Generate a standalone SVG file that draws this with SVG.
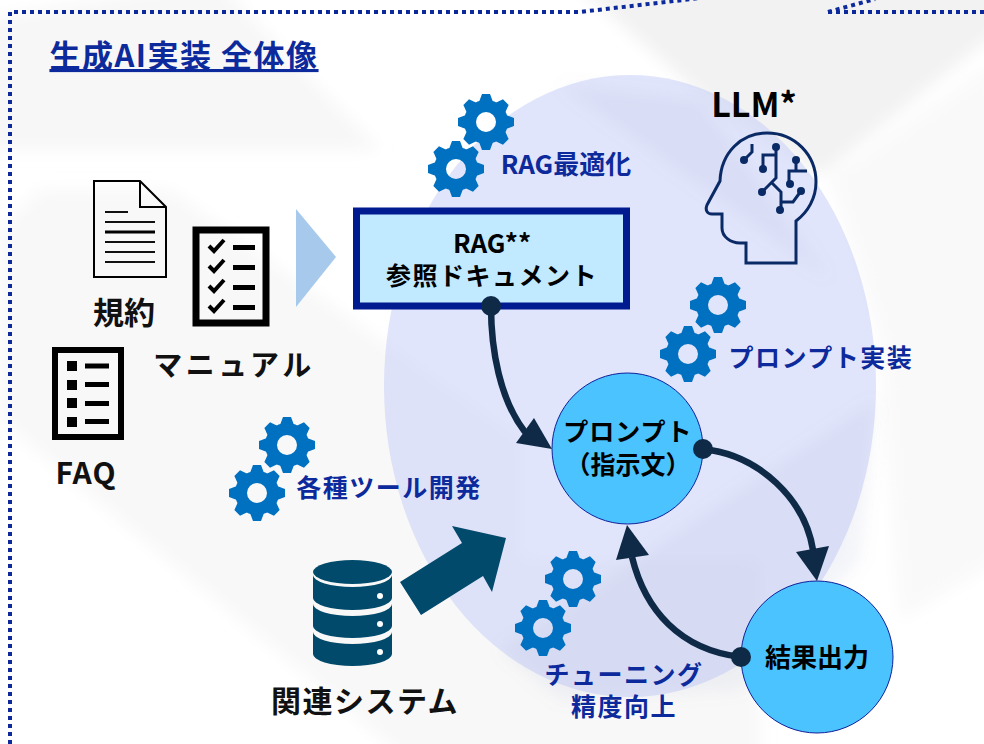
<svg xmlns="http://www.w3.org/2000/svg" xmlns:xlink="http://www.w3.org/1999/xlink" width="984" height="744" viewBox="0 0 984 744">
<style>
text{font-family:"Noto Sans CJK JP","Noto Sans",sans-serif;text-anchor:middle}
.k{fill:#111;font-weight:700}
.kb{fill:#000;font-weight:700}
.b{fill:#0d2a9c;font-weight:700}
.n{fill:#4ac3ff;stroke:#10209a;stroke-width:1}
.c{fill:none;stroke:#0f2a47;stroke-width:6.5}
.h{fill:#0f2a47}
.m{fill:none;stroke:#0a2a66;stroke-width:3}
.d{fill:#0a2a66}
.bd{fill:none;stroke:#0d2a9c;stroke-width:4;stroke-dasharray:4 4}
.db{fill:#024a6b}
</style>
<defs>
<filter id="soft" x="-10%" y="-10%" width="120%" height="120%"><feGaussianBlur stdDeviation="8"/></filter>
<g id="gear" fill="#0070c0">
<circle r="16" fill="none" stroke="#0070c0" stroke-width="12"/>
<polygon id="t" points="-7,-20 -4,-28 4,-28 7,-20"/>
<use xlink:href="#t" href="#t" transform="rotate(45)"/>
<use xlink:href="#t" href="#t" transform="rotate(90)"/>
<use xlink:href="#t" href="#t" transform="rotate(135)"/>
<use xlink:href="#t" href="#t" transform="rotate(180)"/>
<use xlink:href="#t" href="#t" transform="rotate(225)"/>
<use xlink:href="#t" href="#t" transform="rotate(270)"/>
<use xlink:href="#t" href="#t" transform="rotate(315)"/>
</g>
</defs>
<rect width="984" height="744" fill="#fff"/>
<g id="background" filter="url(#soft)">
<polygon points="-20,20 215,-20 380,150 -20,150" fill="#f7f7f7"/>
<polygon points="40,190 170,190 520,440 520,770 420,770 0,420 0,230" fill="#f8f8f8"/>
<polygon points="400,560 760,560 760,770 400,770" fill="#f8f8f8"/>
<polygon points="570,-20 1000,-20 1000,30 820,175 730,120" fill="#f2f2f2"/>
<polygon points="830,175 1000,60 1000,560 900,620 880,340" fill="#f9f9f9"/>
</g>
<ellipse id="oval" cx="630" cy="386" rx="246" ry="311" fill="#c3cbf8" fill-opacity="0.5"/>
<g id="band" filter="url(#soft)" fill="#8a90c0" fill-opacity="0.1">
<polygon points="876,400 500,650 560,700 740,690 860,560"/>
<polygon points="560,85 700,100 830,280 720,200"/>
</g>
<path id="frame" class="bd" d="M10,744V12H580L700,-2M828,12L875,-1M828,12H984"/>
<g id="doc">
<path d="M94,181H140L166,207V277H94Z" fill="none" stroke="#000" stroke-width="2"/>
<path d="M140,181V207H166" fill="none" stroke="#000" stroke-width="2"/>
<path d="M105,212H128M105,222H155M105,242H155M105,252H155M105,262H155" stroke="#111" stroke-width="2" fill="none"/>
<path d="M105,232H155" stroke="#000" stroke-width="3" fill="none"/>
<text x="124" y="324" font-size="31" class="k">規約</text>
</g>
<g id="manual">
<rect x="196" y="230" width="70" height="93" fill="none" stroke="#000" stroke-width="7"/>
<path d="M209,246l5,5l10,-11M209,266l5,5l10,-11M209,286l5,5l10,-11M209,306l5,5l10,-11" fill="none" stroke="#000" stroke-width="4"/>
<path d="M233,247.500h22M233,267.500h22M233,287.500h22M233,307.500h22" stroke="#000" stroke-width="5" fill="none"/>
<text x="234" y="376" font-size="29" class="k" letter-spacing="3.500">マニュアル</text>
</g>
<g id="faq">
<rect x="55" y="350" width="66" height="87" fill="none" stroke="#000" stroke-width="6"/>
<path d="M67,361h10v10h-10zM67,380h10v10h-10zM67,398h10v10h-10zM67,417h10v10h-10z" fill="#000"/>
<path d="M85,366h24M85,384.500h24M85,403.500h24M85,421.500h24" stroke="#000" stroke-width="5" fill="none"/>
<text x="86" y="484" font-size="30" class="k" letter-spacing="1">FAQ</text>
</g>
<polygon id="flow-arrow" points="296,209 336,257 296,307" fill="#a6c9ec"/>
<g id="rag">
<rect x="356.500" y="211" width="270" height="95" fill="#c1e9ff" stroke="#001a8f" stroke-width="7"/>
<text x="492" y="253" font-size="26" class="kb">RAG**</text>
<text x="492" y="285" font-size="25" class="kb" letter-spacing="1.500">参照ドキュメント</text>
</g>
<g id="gears-rag"><use xlink:href="#gear" href="#gear" x="486" y="122"/><use xlink:href="#gear" href="#gear" x="456" y="169"/>
<text x="566" y="174" font-size="26" class="b">RAG最適化</text></g>
<g id="gears-prompt"><use xlink:href="#gear" href="#gear" x="718" y="305"/><use xlink:href="#gear" href="#gear" x="688" y="354"/>
<text x="821" y="367" font-size="25" class="b" letter-spacing="1.500">プロンプト実装</text></g>
<g id="gears-tools"><use xlink:href="#gear" href="#gear" x="287" y="445"/><use xlink:href="#gear" href="#gear" x="257" y="493"/>
<text x="389" y="497" font-size="25" class="b" letter-spacing="1.500">各種ツール開発</text></g>
<g id="gears-tuning"><use xlink:href="#gear" href="#gear" x="573" y="579"/><use xlink:href="#gear" href="#gear" x="543" y="628"/>
<text x="624" y="684" font-size="25" class="b" letter-spacing="1.500">チューニング</text>
<text x="624" y="716" font-size="25" class="b" letter-spacing="1.500">精度向上</text></g>
<g id="llm">
<text x="754" y="117" font-size="34" class="kb">LLM*</text>
<path class="m" d="M746,243V263H796V221C808,212 816,198 816,182C816,155 795,133 767,133C741,133 721,153 720,181L707,205C705,210 707,214 712,214H722V228C722,237 731,243 740,243Z"/>
<path class="m" d="M744,160L752,152V144M776,147V178L762,192M776,155H763V169M772,183L781,192V210M781,202H793L801,191M796,160V170M807,171H789V184"/>
<g class="d"><circle cx="776" cy="147" r="4"/><circle cx="763" cy="169" r="4"/><circle cx="744" cy="160" r="4"/><circle cx="796" cy="160" r="4"/><circle cx="790" cy="184" r="4"/><circle cx="801" cy="191" r="4"/><circle cx="762" cy="192" r="4"/><circle cx="780" cy="210" r="4"/></g>
</g>
<g id="database">
<ellipse class="db" cx="352.500" cy="572" rx="39.500" ry="12"/>
<path class="db" d="M313,575A39.500,12 0 0 0 392,575V598A39.500,12 0 0 1 313,598Z"/>
<path class="db" d="M313,604A39.500,12 0 0 0 392,604V626A39.500,12 0 0 1 313,626Z"/>
<path class="db" d="M313,632A39.500,12 0 0 0 392,632V654A39.500,12 0 0 1 313,654Z"/>
<circle cx="380" cy="596" r="3" fill="#fff"/><circle cx="380" cy="624" r="3" fill="#fff"/><circle cx="380" cy="652" r="3" fill="#fff"/>
<text x="365" y="712" font-size="30" class="k" letter-spacing="1.500">関連システム</text>
</g>
<polygon id="system-arrow" class="db" points="400,582 462,543 452,526 506,538 492,592 483,576 421,615"/>
<g id="prompt">
<circle class="n" cx="627.500" cy="448.500" r="75.500"/>
<text x="628" y="441" font-size="25" class="kb" letter-spacing="1">プロンプト</text>
<text x="628" y="474" font-size="25" class="kb">（指示文）</text>
</g>
<g id="result">
<circle class="n" cx="817" cy="657" r="76"/>
<text x="817" y="667" font-size="26" class="kb">結果出力</text>
</g>
<g id="connectors">
<path class="c" d="M491,306C491,350 500,400 525,432"/>
<polygon class="h" points="552,449 516,443 534,418"/>
<circle class="h" cx="491" cy="306" r="10"/>
<path class="c" d="M703,449C760,455 805,500 813,550"/>
<polygon class="h" points="817,581 796,552 829,546"/>
<circle class="h" cx="703" cy="449" r="10"/>
<path class="c" d="M741,657C680,650 645,610 632,557"/>
<polygon class="h" points="627,525 616,560 649,555"/>
<circle class="h" cx="741" cy="657" r="10"/>
</g>
<g id="title">
<text x="184" y="67" font-size="31" font-weight="700" fill="#0d2a9c" text-decoration="underline" letter-spacing="1.500">生成AI実装 全体像</text>
</g>
</svg>
